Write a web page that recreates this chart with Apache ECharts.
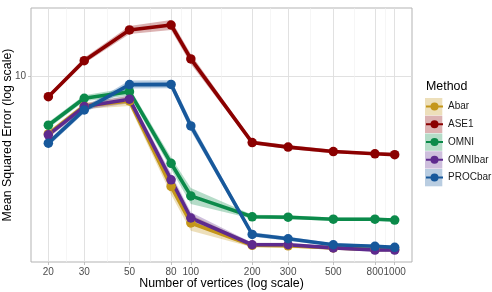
<!DOCTYPE html>
<html><head><meta charset="utf-8">
<script src="https://cdn.jsdelivr.net/npm/echarts@6/dist/echarts.min.js"></script>
<style>html,body{margin:0;padding:0;background:#fff}#c{width:492px;height:292px}</style>
</head><body><div id="c"></div>
<script>
// ---- data ----
const vertices = [20, 30, 50, 80, 100, 200, 300, 500, 800, 1000];
const minorVertices = [24.5, 38.7, 63.2, 89.4, 141, 245, 387, 632, 894];
const yTicks = [10];
const methods = ['Abar', 'ASE1', 'OMNI', 'OMNIbar', 'PROCbar'];

const abarMean    = [5.86, 7.58, 7.94, 3.61, 2.58, 2.10, 2.09, 2.05, 2.02, 2.02];
const abarLo      = [5.70, 7.37, 7.58, 3.35, 2.40, 2.06, 2.05, 2.02, 1.99, 1.99];
const abarHi      = [6.02, 7.79, 8.31, 3.89, 2.78, 2.14, 2.13, 2.08, 2.05, 2.05];

const ase1Mean    = [8.26, 11.51, 15.28, 15.99, 11.70, 5.41, 5.19, 4.98, 4.88, 4.84];
const ase1Lo      = [8.11, 11.20, 14.73, 15.27, 11.17, 5.31, 5.10, 4.89, 4.82, 4.78];
const ase1Hi      = [8.41, 11.83, 15.85, 16.74, 12.25, 5.51, 5.29, 5.07, 4.94, 4.90];

const omniMean    = [6.35, 8.14, 8.65, 4.47, 3.31, 2.73, 2.72, 2.67, 2.67, 2.65];
const omniLo      = [6.18, 7.92, 8.34, 4.23, 3.07, 2.68, 2.67, 2.63, 2.63, 2.61];
const omniHi      = [6.53, 8.37, 8.97, 4.72, 3.56, 2.78, 2.77, 2.71, 2.71, 2.69];

const omnibarMean = [5.81, 7.54, 8.07, 3.84, 2.70, 2.11, 2.11, 2.05, 2.01, 2.01];
const omnibarLo   = [5.65, 7.33, 7.78, 3.63, 2.55, 2.07, 2.07, 2.02, 1.98, 1.98];
const omnibarHi   = [5.97, 7.75, 8.37, 4.06, 2.85, 2.15, 2.15, 2.08, 2.04, 2.04];

const procbarMean = [5.38, 7.31, 9.23, 9.25, 6.31, 2.32, 2.23, 2.11, 2.08, 2.06];
const procbarLo   = [5.23, 7.11, 8.90, 8.92, 6.03, 2.27, 2.19, 2.08, 2.05, 2.03];
const procbarHi   = [5.53, 7.51, 9.58, 9.60, 6.61, 2.37, 2.27, 2.14, 2.11, 2.09];

const methodColors = ['#c4961a', '#8b0000', '#0b8a4a', '#5e2a8e', '#17589b'];
const means = [abarMean, ase1Mean, omniMean, omnibarMean, procbarMean];
const lows  = [abarLo, ase1Lo, omniLo, omnibarLo, procbarLo];
const highs = [abarHi, ase1Hi, omniHi, omnibarHi, procbarHi];

// ---- chart ----
const FONT = 'Liberation Sans, Arial, sans-serif';
const chart = echarts.init(document.getElementById('c'), null, {renderer: 'canvas'});

const series = [];
methods.forEach((m, k) => {
  series.push({
    type: 'custom', name: m + ' band', silent: true, z: 1,
    data: [[100, 5]],
    renderItem: function (params, api) {
      const pts = [];
      for (let i = 0; i < vertices.length; i++) pts.push(api.coord([vertices[i], highs[k][i]]));
      for (let i = vertices.length - 1; i >= 0; i--) pts.push(api.coord([vertices[i], lows[k][i]]));
      return {type: 'polygon', shape: {points: pts}, style: {fill: methodColors[k], opacity: 0.3}};
    }
  });
});
methods.forEach((m, k) => {
  series.push({
    type: 'line', name: m, z: 3,
    data: vertices.map((v, i) => [v, means[k][i]]),
    showSymbol: false, symbol: 'circle', symbolSize: 9,
    lineStyle: {width: 3.6, color: methodColors[k]},
    itemStyle: {color: methodColors[k]}
  });
});
methods.forEach((m, k) => {
  series.push({
    type: 'scatter', name: m + ' pts', z: 4,
    data: vertices.map((v, i) => [v, means[k][i]]),
    symbol: 'circle', symbolSize: 9.5,
    itemStyle: {color: methodColors[k], opacity: 1}
  });
});

const keyGraphics = methods.map((m, k) => ({
  type: 'rect', left: 425, top: 98 + k * 17.75, z: -1,
  shape: {width: 17.3, height: 17.3},
  style: {fill: methodColors[k], opacity: 0.3}
}));

const xMin = 16.44, xMax = 1216;
const option = {
  animation: false,
  backgroundColor: '#ffffff',
  textStyle: {fontFamily: FONT},
  grid: {left: 31, right: 80, top: 8, bottom: 30, show: true, borderColor: '#b3b3b3', borderWidth: 1, backgroundColor: '#fff', containLabel: false, outerBoundsMode: 'none'},
  xAxis: [{
    type: 'log', logBase: 10, min: xMin, max: xMax,
    name: 'Number of vertices (log scale)', nameLocation: 'middle', nameGap: 16, nameMoveOverlap: false,
    nameTextStyle: {fontSize: 12.4, color: '#000', fontFamily: FONT},
    axisLine: {show: false},
    axisTick: {show: true, customValues: vertices, length: 3, lineStyle: {color: '#b3b3b3', width: 0.8}},
    axisLabel: {customValues: vertices, color: '#4d4d4d', fontSize: 10, margin: 5, fontFamily: FONT, hideOverlap: false, showMinLabel: true, showMaxLabel: true,
      formatter: function (v) { return String(Math.round(v)); }},
    splitLine: {show: true, lineStyle: {color: '#dedede', width: 0.9}},
    minorTick: {show: false}, minorSplitLine: {show: false}
  }, {
    type: 'log', logBase: 10, min: xMin, max: xMax, gridIndex: 0, position: 'bottom',
    axisLine: {show: false}, axisLabel: {show: false},
    axisTick: {show: false, customValues: minorVertices},
    splitLine: {show: true, lineStyle: {color: '#f0f0f0', width: 0.6}}
  }],
  yAxis: {
    type: 'log', logBase: 10, min: 1.8, max: 18.7,
    name: 'Mean Squared Error (log scale)', nameLocation: 'middle', nameGap: 17, nameMoveOverlap: false,
    nameTextStyle: {fontSize: 12.4, color: '#000', fontFamily: FONT},
    axisLine: {show: false},
    axisTick: {show: true, customValues: yTicks, length: 3, lineStyle: {color: '#b3b3b3', width: 0.8}},
    axisLabel: {customValues: yTicks, color: '#4d4d4d', fontSize: 10, margin: 5, fontFamily: FONT,
      formatter: function (v) { return String(Math.round(v)); }},
    splitLine: {show: true, lineStyle: {color: '#dedede', width: 0.9}},
    minorSplitLine: {show: false}
  },
  legend: {
    orient: 'vertical', left: 425, top: 101.5, padding: 0,
    itemWidth: 17, itemHeight: 10, itemGap: 7.75,
    selectedMode: false,
    data: methods,
    textStyle: {fontSize: 10, color: '#1a1a1a', fontFamily: FONT}
  },
  graphic: [
    {type: 'text', left: 426, top: 81, style: {text: 'Method', fontSize: 12.4, fill: '#000', fontFamily: FONT}}
  ].concat(keyGraphics),
  series: series
};
chart.setOption(option);
</script>
</body></html>
